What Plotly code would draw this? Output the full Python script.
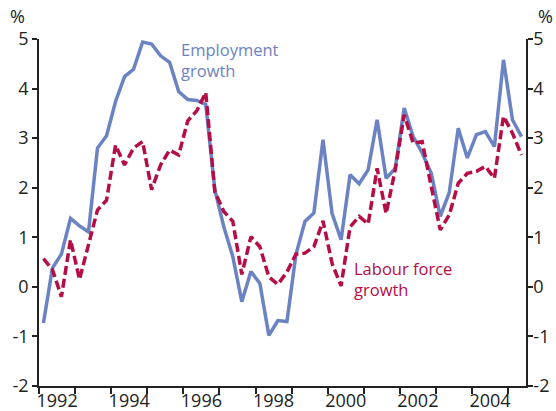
import pandas as pd
import plotly.graph_objects as go

# =============================================================================
# DATA (year-ended growth, %, quarterly 1992Q1 - 2005Q2)
# =============================================================================

START_QUARTER = "1992Q1"
END_QUARTER = "2005Q2"

EMPLOYMENT = [
    -0.73, 0.38, 0.66, 1.38, 1.23, 1.11, 2.80, 3.05, 3.74, 4.24,
    4.39, 4.94, 4.90, 4.66, 4.53, 3.94, 3.78, 3.76, 3.68, 1.96,
    1.21, 0.61, -0.30, 0.31, 0.07, -0.98, -0.68, -0.70, 0.65, 1.32,
    1.49, 2.97, 1.48, 0.95, 2.26, 2.08, 2.36, 3.37, 2.19, 2.39,
    3.61, 3.03, 2.70, 2.29, 1.42, 1.90, 3.20, 2.60, 3.07, 3.13,
    2.83, 4.58, 3.37, 3.03,
]

LABOUR_FORCE = [
    0.57, 0.35, -0.20, 0.95, 0.15, 0.85, 1.55, 1.75, 2.86, 2.46,
    2.80, 2.93, 1.96, 2.46, 2.76, 2.66, 3.35, 3.55, 3.92, 1.92,
    1.52, 1.32, 0.25, 1.01, 0.81, 0.20, 0.05, 0.30, 0.66, 0.68,
    0.81, 1.33, 0.47, 0.02, 1.21, 1.42, 1.27, 2.39, 1.48, 2.36,
    3.47, 2.90, 2.93, 2.02, 1.15, 1.45, 2.09, 2.29, 2.33, 2.43,
    2.19, 3.44, 3.10, 2.66,
]

YEAR_LABELS = ["1992", "1994", "1996", "1998", "2000", "2002", "2004"]
Y_TICKS = [-2, -1, 0, 1, 2, 3, 4, 5]
Y_TICK_TEXT = ["-2", "-1", "0", "1", "2", "3", "4", "5"]

# =============================================================================
# CONFIG VISUAL
# =============================================================================

COLOR_BLUE = "#6B82C3"
COLOR_RED = "#B50D45"
COLOR_AXIS = "#222222"
FONT = "Open Sans"

# mid-quarter dates
quarters = pd.period_range(START_QUARTER, END_QUARTER, freq="Q")
x_dates = [(q.start_time + (q.end_time - q.start_time) / 2).strftime("%Y-%m-%d") for q in quarters]

fig = go.Figure()

fig.add_trace(
    go.Scatter(
        x=x_dates,
        y=EMPLOYMENT,
        mode="lines",
        name="Employment growth",
        line=dict(color=COLOR_BLUE, width=3.5),
    )
)

fig.add_trace(
    go.Scatter(
        x=x_dates,
        y=LABOUR_FORCE,
        mode="lines",
        name="Labour force growth",
        line=dict(color=COLOR_RED, width=3.5, dash="9px,4px"),
    )
)

# invisible trace to hold the right-hand axis
fig.add_trace(
    go.Scatter(x=[x_dates[0]], y=[0], yaxis="y2", mode="lines",
               line=dict(width=0), showlegend=False, hoverinfo="skip")
)

y_axis_style = dict(
    range=[-2, 5],
    tickvals=Y_TICKS,
    ticktext=Y_TICK_TEXT,
    ticks="outside",
    ticklen=5,
    tickwidth=1.5,
    tickcolor=COLOR_AXIS,
    showline=True,
    linecolor=COLOR_AXIS,
    linewidth=1.5,
    showgrid=False,
    zeroline=False,
    automargin=False,
)

fig.update_layout(
    template="none",
    width=556,
    height=411,
    margin=dict(l=39, r=30, t=39, b=25),
    paper_bgcolor="white",
    plot_bgcolor="white",
    showlegend=False,
    font=dict(family=FONT, size=18, color=COLOR_AXIS),
    xaxis=dict(
        type="date",
        range=["1992-01-01", "2005-07-01"],
        tickvals=[f"{y}-07-02" for y in YEAR_LABELS],
        ticktext=YEAR_LABELS,
        ticks="",
        ticklabelstandoff=-2,
        showline=True,
        linecolor=COLOR_AXIS,
        linewidth=1.5,
        showgrid=False,
        zeroline=False,
        automargin=False,
        minor=dict(
            dtick="M12",
            tick0="1992-01-01",
            ticks="outside",
            ticklen=6,
            tickcolor=COLOR_AXIS,
            tickwidth=1.5,
            showgrid=False,
        ),
    ),
    yaxis=y_axis_style,
    yaxis2=dict(y_axis_style, overlaying="y", side="right", ticklabelstandoff=-3),
)

# unit labels
fig.add_annotation(text="%", xref="paper", yref="paper", x=-0.045, y=1.065,
                   xanchor="center", yanchor="middle", showarrow=False,
                   font=dict(family=FONT, size=18, color=COLOR_AXIS))
fig.add_annotation(text="%", xref="paper", yref="paper", x=1.04, y=1.065,
                   xanchor="center", yanchor="middle", showarrow=False,
                   font=dict(family=FONT, size=18, color=COLOR_AXIS))

# series labels
fig.add_annotation(text="Employment<br>growth", x="1995-11-20", y=5.0,
                   xanchor="left", yanchor="top", align="left", showarrow=False,
                   yshift=3,
                   font=dict(family=FONT, size=16.5, color=COLOR_BLUE))
fig.add_annotation(text="Labour force<br>growth", x="2000-09-05", y=0.65,
                   xanchor="left", yanchor="top", align="left", showarrow=False,
                   font=dict(family=FONT, size=16.5, color=COLOR_RED))

# page body has a default 8px margin; remove it so the chart sits at 0,0
fig.write_html(
    "out.html",
    config={"displayModeBar": False},
    post_script="document.body.style.margin='0';",
)
